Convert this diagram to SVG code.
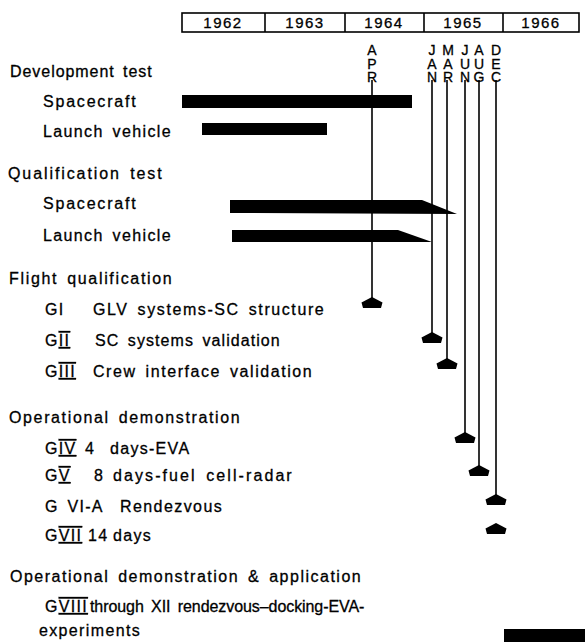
<svg xmlns="http://www.w3.org/2000/svg" xmlns:xlink="http://www.w3.org/1999/xlink" width="585" height="642" viewBox="0 0 585 642">
<style>
text{font-family:"Liberation Sans",Arial,sans-serif;fill:#000;stroke:#000;stroke-width:0.3}
.t{font-size:16px;letter-spacing:1.3px;word-spacing:3px}
.yr{font-size:15px;text-anchor:middle;letter-spacing:1.5px}
.mo{font-size:14px;writing-mode:vertical-rl;text-orientation:upright;letter-spacing:-2.4px}
.rn{text-decoration:overline underline}
.ln{stroke:#000;stroke-width:1.6;fill:none}
.bar{fill:#000}
</style>
<defs>
<path id="arr" d="M0,0 L10.5,5.5 L9,11 L-9,11 L-10.5,5.5 Z" fill="#000"/>
</defs>
<rect width="585" height="642" fill="#fff"/>

<g id="years">
<rect x="182" y="13" width="397" height="19" fill="none" stroke="#000" stroke-width="1.6"/>
<line class="ln" x1="265" y1="13" x2="265" y2="32"/>
<line class="ln" x1="345" y1="13" x2="345" y2="32"/>
<line class="ln" x1="424" y1="13" x2="424" y2="32"/>
<line class="ln" x1="503" y1="13" x2="503" y2="32"/>
<text class="yr" x="223" y="28">1962</text>
<text class="yr" x="305" y="28">1963</text>
<text class="yr" x="384" y="28">1964</text>
<text class="yr" x="463" y="28">1965</text>
<text class="yr" x="541" y="28">1966</text>
</g>

<g id="months">
<text class="mo" x="372" y="42">APR</text>
<text class="mo" x="432" y="42">JAN</text>
<text class="mo" x="448" y="42">MAR</text>
<text class="mo" x="465" y="42">JUN</text>
<text class="mo" x="479" y="42">AUG</text>
<text class="mo" x="496" y="42">DEC</text>
</g>

<g id="connectors">
<line class="ln" x1="372" y1="80" x2="372" y2="298"/>
<line class="ln" x1="432" y1="80" x2="432" y2="333"/>
<line class="ln" x1="447" y1="80" x2="447" y2="359"/>
<line class="ln" x1="465" y1="80" x2="465" y2="433"/>
<line class="ln" x1="479" y1="80" x2="479" y2="466"/>
<line class="ln" x1="496" y1="80" x2="496" y2="495"/>
<use xlink:href="#arr" x="372" y="297"/>
<use xlink:href="#arr" x="432" y="332"/>
<use xlink:href="#arr" x="447" y="358"/>
<use xlink:href="#arr" x="465" y="432"/>
<use xlink:href="#arr" x="479" y="465"/>
<use xlink:href="#arr" x="496" y="494"/>
<use xlink:href="#arr" x="496" y="523"/>
</g>

<g id="dev-test">
<text class="t" x="10" y="77" textLength="143">Development test</text>
</g>
<g id="dev-spacecraft">
<text class="t" x="43" y="107" textLength="94">Spacecraft</text>
<rect class="bar" x="182" y="95" width="230" height="13"/>
</g>
<g id="dev-launch">
<text class="t" x="43" y="137" textLength="129">Launch vehicle</text>
<rect class="bar" x="202" y="123" width="125" height="12"/>
</g>

<g id="qual-test">
<text class="t" x="8" y="179" textLength="155">Qualification test</text>
</g>
<g id="qual-spacecraft">
<text class="t" x="43" y="209" textLength="94">Spacecraft</text>
<polygon class="bar" points="230,200 422,200 457,214 230,213"/>
</g>
<g id="qual-launch">
<text class="t" x="43" y="241" textLength="129">Launch vehicle</text>
<polygon class="bar" points="232,230 398,230 432,242 232,242"/>
</g>

<g id="flight-qual">
<text class="t" x="9" y="284" textLength="164">Flight qualification</text>
</g>
<g id="g1">
<text class="t" x="45" y="315">GI</text>
<text class="t" x="93" y="315" textLength="232">GLV systems-SC structure</text>
</g>
<g id="g2">
<text class="t" x="45" y="346">G<tspan class="rn">II</tspan></text>
<text class="t" x="95" y="346" textLength="186">SC systems validation</text>
</g>
<g id="g3">
<text class="t" x="45" y="377">G<tspan class="rn">III</tspan></text>
<text class="t" x="93" y="377" textLength="220">Crew interface validation</text>
</g>

<g id="op-demo">
<text class="t" x="9" y="423" textLength="232">Operational demonstration</text>
</g>
<g id="g4">
<text class="t" x="45" y="454">G<tspan class="rn">IV</tspan></text>
<text class="t" x="85" y="454">4</text>
<text class="t" x="110" y="454">days-EVA</text>
</g>
<g id="g5">
<text class="t" x="45" y="481">G<tspan class="rn">V</tspan></text>
<text class="t" x="94" y="481">8</text>
<text class="t" x="113" y="481" textLength="180">days-fuel cell-radar</text>
</g>
<g id="g6">
<text class="t" x="45" y="512">G VI-A</text>
<text class="t" x="120" y="512" textLength="103">Rendezvous</text>
</g>
<g id="g7">
<text class="t" x="45" y="541">G<tspan class="rn">VII</tspan></text>
<text class="t" x="88" y="541">14</text>
<text class="t" x="113" y="541">days</text>
</g>

<g id="op-demo-app">
<text class="t" x="10" y="582" textLength="352">Operational demonstration &amp; application</text>
</g>
<g id="g8-12">
<text class="t" x="45" y="612">G<tspan class="rn">VIII</tspan></text>
<text class="t" x="90" y="612" textLength="275" style="letter-spacing:0.6px">through XII rendezvous–docking-EVA-</text>
<text class="t" x="39" y="636" textLength="102">experiments</text>
<rect class="bar" x="504" y="629" width="81" height="13"/>
</g>
</svg>
